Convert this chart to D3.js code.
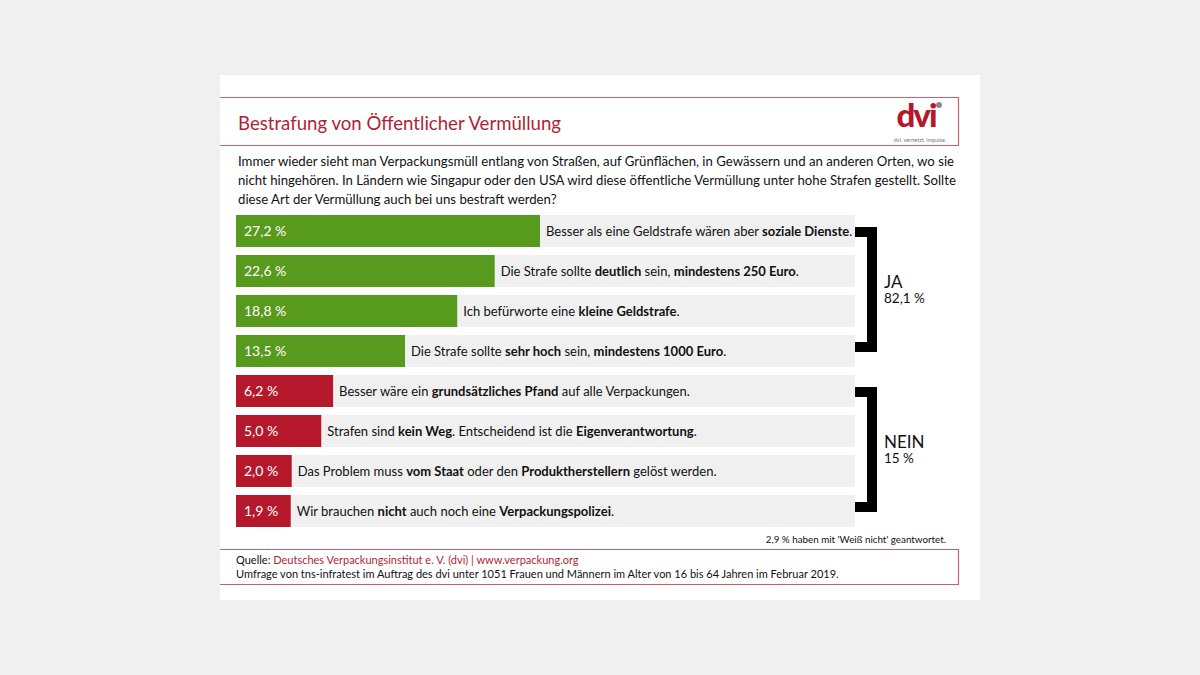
<!DOCTYPE html>
<html>
<head>
<meta charset="utf-8">
<script src="https://cdn.jsdelivr.net/npm/d3@7/dist/d3.min.js"></script>
<style>
  html, body { margin: 0; padding: 0; background: #f0f0f0; }
  svg { display: block; }
  text { font-family: Lato, "Open Sans", sans-serif; }
</style>
</head>
<body>
<svg id="chart" width="1200" height="675"></svg>
<script>
// ---- data ----
const title = "Bestrafung von Öffentlicher Vermüllung";
const questionLines = [
  "Immer wieder sieht man Verpackungsmüll entlang von Straßen, auf Grünflächen, in Gewässern und an anderen Orten, wo sie",
  "nicht hingehören. In Ländern wie Singapur oder den USA wird diese öffentliche Vermüllung unter hohe Strafen gestellt. Sollte",
  "diese Art der Vermüllung auch bei uns bestraft werden?"
];
const answers = [
  "Besser als eine Geldstrafe wären aber **soziale Dienste**.",
  "Die Strafe sollte **deutlich** sein, **mindestens 250 Euro**.",
  "Ich befürworte eine **kleine Geldstrafe**.",
  "Die Strafe sollte **sehr hoch** sein, **mindestens 1000 Euro**.",
  "Besser wäre ein **grundsätzliches Pfand** auf alle Verpackungen.",
  "Strafen sind **kein Weg**. Entscheidend ist die **Eigenverantwortung**.",
  "Das Problem muss **vom Staat** oder den **Produktherstellern** gelöst werden.",
  "Wir brauchen **nicht** auch noch eine **Verpackungspolizei**."
];
const values = [27.2, 22.6, 18.8, 13.5, 6.2, 5.0, 2.0, 1.9];
const answerGroup = ["JA", "JA", "JA", "JA", "NEIN", "NEIN", "NEIN", "NEIN"];
const groups = ["JA", "NEIN"];
const groupTotals = ["82,1 %", "15 %"];
const footnote = "2,9 % haben mit 'Weiß nicht' geantwortet.";
const sourceLabel = "Quelle: ";
const sourceText = "Deutsches Verpackungsinstitut e. V. (dvi) | www.verpackung.org";
const surveyText = "Umfrage von tns-infratest im Auftrag des dvi unter 1051 Frauen und Männern im Alter von 16 bis 64 Jahren im Februar 2019.";

// ---- styles ----
const colGroup = { JA: "#589a1d", NEIN: "#b5182b" };
const titleRed = "#b01f33";
const lineRed = "#c9606d";

const svg = d3.select("#chart");

// card
svg.append("rect").attr("x", 220).attr("y", 75).attr("width", 760).attr("height", 525).attr("fill", "#fff");

// header frame
const hdr = svg.append("g");
hdr.append("path").attr("d", "M220,97.5 H958.5 V145.5 H220").attr("fill", "none").attr("stroke", lineRed).attr("stroke-width", 1.2);
hdr.append("text").attr("x", 238).attr("y", 130).attr("font-size", 18.6).attr("fill", titleRed).text(title);

// logo
const logo = svg.append("g");
logo.append("text").attr("x", 916).attr("y", 127).attr("text-anchor", "middle")
  .attr("font-size", 33).attr("font-weight", 900).attr("letter-spacing", -2).attr("fill", "#b5182b").text("dvi");
logo.append("circle").attr("cx", 939).attr("cy", 105).attr("r", 3).attr("fill", "#8a8a8a");
logo.append("text").attr("x", 920).attr("y", 141.5).attr("text-anchor", "middle")
  .attr("font-size", 5.5).attr("fill", "#777").attr("font-family", "Liberation Serif, serif").text("dvi. vernetzt. impulse.");

// question
svg.append("g").selectAll("text").data(questionLines).join("text")
  .attr("x", 238).attr("y", (d, i) => 166 + i * 19)
  .attr("font-size", 13.2).attr("fill", "#111").text(d => d);

// scales
const x0 = 236, xEnd = 855;
const y = d3.scaleBand().domain(d3.range(values.length)).range([211, 531]).paddingInner(0.2).paddingOuter(0.1);
const w = d3.scaleLinear().domain([0, d3.max(values)]).range([36, 304]);

const rows = svg.append("g").selectAll("g").data(values).join("g")
  .attr("transform", (d, i) => `translate(0,${y(i)})`);

rows.append("rect").attr("x", x0).attr("width", xEnd - x0).attr("height", y.bandwidth()).attr("fill", "#f0f0f0");
rows.append("rect").attr("x", x0).attr("width", d => w(d)).attr("height", y.bandwidth())
  .attr("fill", (d, i) => colGroup[answerGroup[i]]);
rows.append("text").attr("x", x0 + 8).attr("y", y.bandwidth() / 2).attr("dy", "0.36em")
  .attr("font-size", 14).attr("fill", "#fff")
  .text(d => d.toFixed(1).replace(".", ",") + " %");

rows.append("text").attr("x", d => x0 + w(d) + 6).attr("y", y.bandwidth() / 2).attr("dy", "0.36em")
  .attr("font-size", 13).attr("fill", "#111")
  .each(function (d, i) {
    const parts = answers[i].split("**");
    const t = d3.select(this);
    parts.forEach((p, k) => {
      if (!p) return;
      t.append("tspan").attr("font-weight", k % 2 ? 700 : 400).text(p);
    });
  });

// brackets
const br = svg.append("g");
groups.forEach((g, gi) => {
  const idx = d3.range(values.length).filter(i => answerGroup[i] === g);
  const top = y(idx[0]) + y.bandwidth() / 2 + 1;
  const bot = y(idx[idx.length - 1]) + y.bandwidth() / 2 - 4;
  br.append("path").attr("d", `M855,${top} H872 V${bot} H855`)
    .attr("fill", "none").attr("stroke", "#000").attr("stroke-width", 10).attr("stroke-linejoin", "miter");
  const mid = (top + bot) / 2;
  br.append("text").attr("x", 884).attr("y", mid - 8).attr("dy", "0.36em").attr("font-size", 17).attr("fill", "#111").text(g);
  br.append("text").attr("x", 884).attr("y", mid + 9).attr("dy", "0.36em").attr("font-size", 13.5).attr("fill", "#111").text(groupTotals[gi]);
});

// footnote
svg.append("text").attr("x", 946).attr("y", 543).attr("text-anchor", "end")
  .attr("font-size", 9.8).attr("fill", "#111").text(footnote);

// footer frame
svg.append("path").attr("d", "M220,549.5 H958.5 V584.5 H220").attr("fill", "none").attr("stroke", lineRed).attr("stroke-width", 1.2);
const src = svg.append("text").attr("x", 236).attr("y", 564).attr("font-size", 11).attr("fill", "#111");
src.append("tspan").text(sourceLabel);
src.append("tspan").attr("fill", titleRed).text(sourceText);
svg.append("text").attr("x", 236).attr("y", 578).attr("font-size", 11).attr("fill", "#111").text(surveyText);
</script>
</body>
</html>
